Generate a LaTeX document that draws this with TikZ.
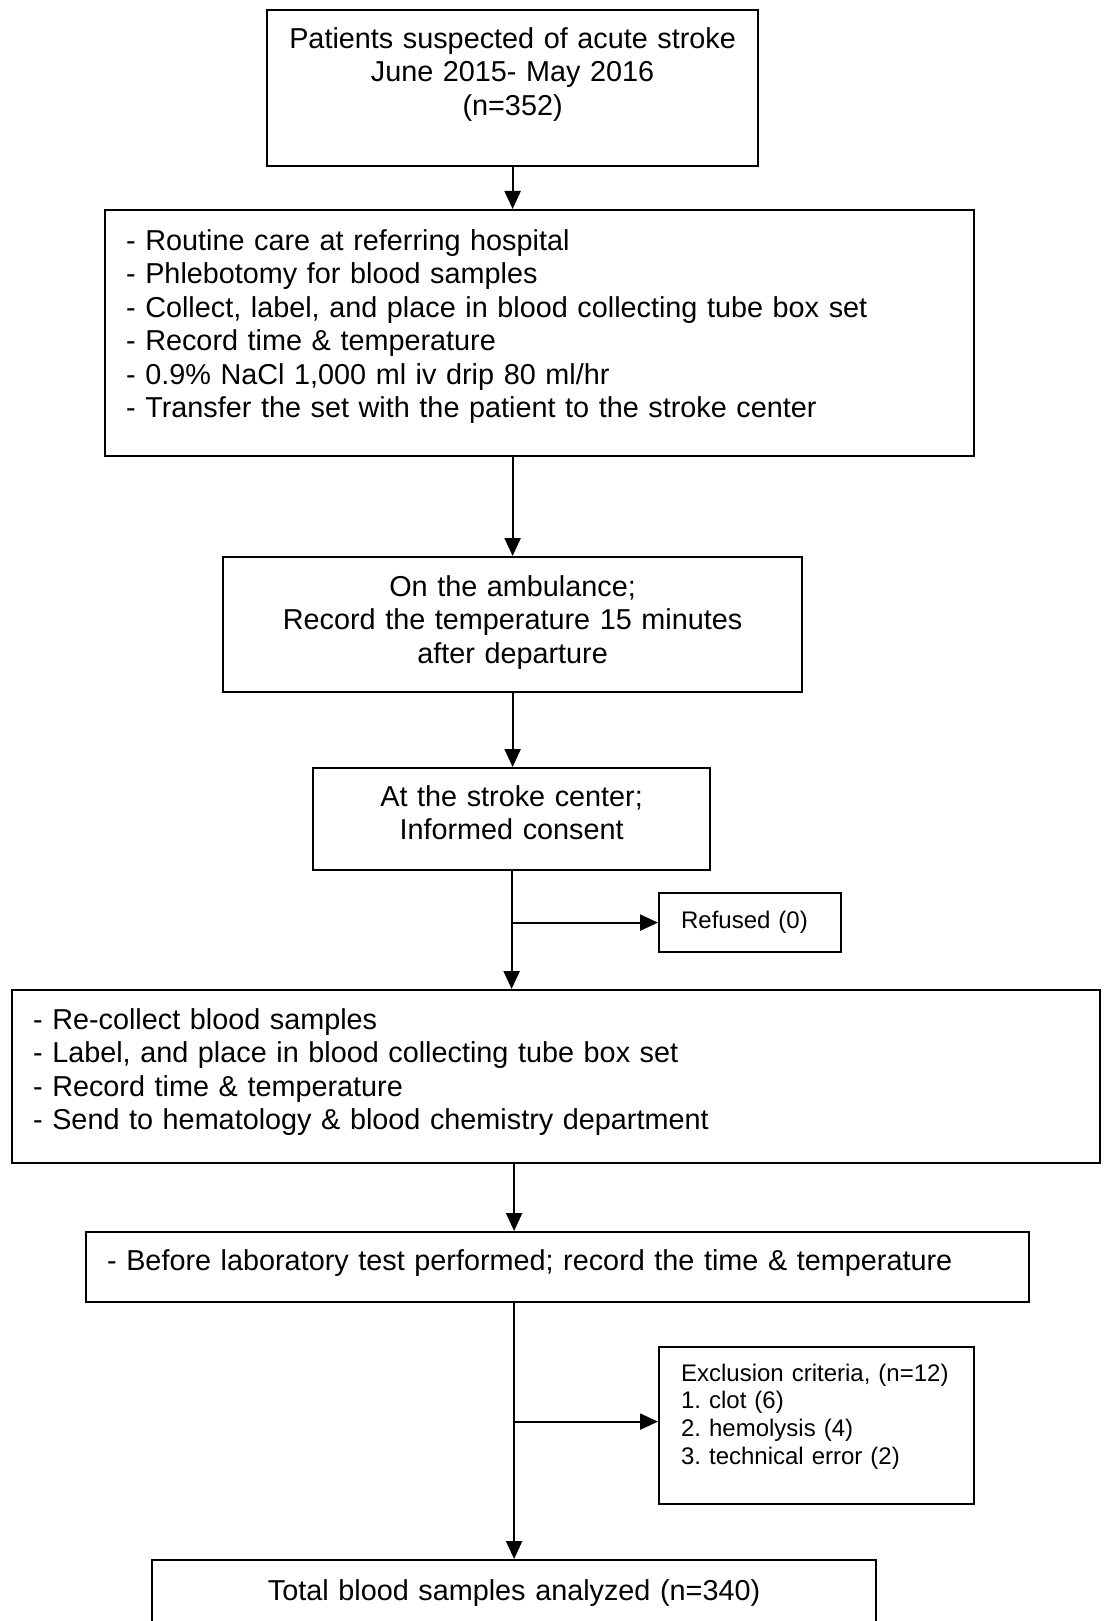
\documentclass[tikz,border=0pt]{standalone}
\usepackage{fontspec}
\setmainfont{Liberation Sans}
\usetikzlibrary{arrows.meta}
\frenchspacing

\begin{document}
\begin{tikzpicture}[x=0.5pt, y=-0.5pt, >={Triangle[length=9pt, width=8pt]},
    every node/.style={draw, line width=1.1pt, anchor=north west, inner ysep=0pt},
    mid/.style={align=center, inner xsep=0pt, font=\fontsize{14.4pt}{16.75pt}\selectfont},
    lft/.style={align=left, inner xsep=10.5pt, font=\fontsize{14.4pt}{16.75pt}\selectfont},
    sml/.style={align=left, inner xsep=11pt, font=\fontsize{12pt}{13.85pt}\selectfont}]
    \useasboundingbox (0,0) rectangle (1104,1621);

    \node[mid, text width=245.5pt, text height=19pt, text depth=59pt] (pts) at (266,9)
        {Patients suspected of acute stroke\\ June 2015- May 2016\\ (n=352)};
    \node[lft, text width=413.5pt, text height=20pt, text depth=103pt] (care) at (104,209)
        {- Routine care at referring hospital\\
         - Phlebotomy for blood samples\\
         - Collect, label, and place in blood collecting tube box set\\
         - Record time \& temperature\\
         - 0.9\% NaCl 1,000 ml iv drip 80 ml/hr\\
         - Transfer the set with the patient to the stroke center};
    \node[mid, text width=289.5pt, text height=19.5pt, text depth=48pt] (amb) at (222,556)
        {On the ambulance;\\ Record the temperature 15 minutes\\ after departure};
    \node[mid, text width=198.5pt, text height=19pt, text depth=32pt] (ctr) at (312,767)
        {At the stroke center;\\ Informed consent};
    \node[sml, text width=69pt, text height=17.5pt, text depth=12pt] (ref) at (658,892)
        {Refused (0)};
    \node[lft, text width=523pt, text height=19.5pt, text depth=67pt] (lab) at (11,989)
        {- Re-collect blood samples\\
         - Label, and place in blood collecting tube box set\\
         - Record time \& temperature\\
         - Send to hematology \& blood chemistry department};
    \node[lft, text width=450.5pt, text height=19pt, text depth=16pt] (test) at (85,1231)
        {- Before laboratory test performed; record the time \& temperature};
    \node[sml, text width=135.5pt, text height=17pt, text depth=61.5pt] (exc) at (658,1346)
        {Exclusion criteria, (n=12)\\ 1. clot (6)\\ 2. hemolysis (4)\\ 3. technical error (2)};
    \node[mid, text width=362pt, text height=20pt, text depth=40pt] (tot) at (151,1559)
        {Total blood samples analyzed (n=340)};
    \coordinate (exin) at ([yshift=2pt]exc.west);

    % Flow arrows
    \draw[->, line width=1.1pt] (pts.south) -- (pts.south |- care.north);
    \draw[->, line width=1.1pt] (amb.north |- care.south) -- (amb.north);
    \draw[->, line width=1.1pt] (amb.south) -- (amb.south |- ctr.north);
    \draw[->, line width=1.1pt] (ctr.south) -- (ctr.south |- lab.north);
    \draw[->, line width=1.1pt] (ctr.south |- ref.west) -- (ref.west);
    \draw[->, line width=1.1pt] (tot.north |- lab.south) -- (tot.north |- test.north);
    \draw[->, line width=1.1pt] (tot.north |- test.south) -- (tot.north);
    \draw[->, line width=1.1pt] (tot.north |- exin) -- (exin);
\end{tikzpicture}
\end{document}
